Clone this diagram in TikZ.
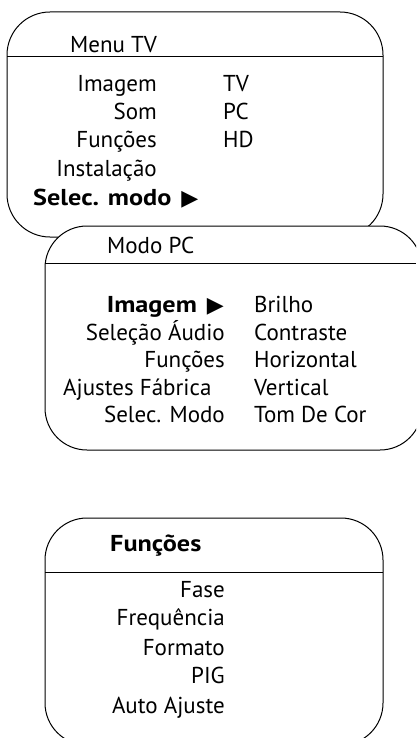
\documentclass[tikz,border=0pt]{standalone}
\usepackage{fontspec}
\setmainfont{PT Sans}
\newfontfamily\wbf{PT Sans}[FakeStretch=1.14]
\newfontfamily\symfont{DejaVu Sans}
\newcommand{\tri}{{\symfont\fontsize{22}{22}\selectfont ▶}}
\begin{document}
\begin{tikzpicture}[x=1pt,y=-1pt,
  box/.style={draw=black,line width=1pt,fill=white},
  sep/.style={draw=black,line width=1pt},
  txt/.style={inner sep=0pt,font=\fontsize{23}{24}\selectfont},
  lft/.style={txt,anchor=base west},
  rgt/.style={txt,anchor=base east},
  boldt/.style={font=\fontsize{23}{24}\selectfont\wbf\bfseries}]
\useasboundingbox (0,0) rectangle (416,738);
\begin{scope}
\clip (0,0) rectangle (416,738);
% top box
\draw[box,rounded corners=43pt] (7,12) rectangle (383,237);
\draw[sep] (7,57) -- (383,57);
\node[lft] (t0) at (70,53) {Menu TV};
\node[rgt] (t1) at (157,92) {Imagem};
\node[rgt] (t2) at (157,120) {Som};
\node[rgt] (t3) at (157,148) {Funções};
\node[rgt] (t4) at (157,177) {Instalação};
\node[lft,boldt] (t5) at (33,205) {Selec. modo\hspace{10pt}\tri};
\node[lft] (u1) at (223,92) {TV};
\node[lft] (u2) at (223,120) {PC};
\node[lft] (u3) at (223,148) {HD};
% middle box
\draw[box,rounded corners=42pt] (45,226) rectangle (422,450);
\draw[sep] (45,263) -- (416,263);
\node[lft] (m0) at (107,253) {Modo PC};
\node[rgt,boldt] (m1) at (224,312) {Imagem\hspace{10pt}\tri};
\node[rgt] (m2) at (225,340) {Seleção Áudio};
\node[rgt] (m3) at (225,367) {Funções};
\node[lft] (m4) at (63,395) {Ajustes Fábrica};
\node[rgt] (m5) at (225,422) {Selec. Modo};
\node[lft] (n1) at (254,312) {Brilho};
\node[lft] (n2) at (254,340) {Contraste};
\node[lft] (n3) at (254,367) {Horizontal};
\node[lft] (n4) at (254,395) {Vertical};
\node[lft] (n5) at (254,422) {Tom De Cor};
% bottom box
\draw[box,rounded corners=42pt] (45,518) rectangle (383,745);
\draw[sep] (45,572) -- (383,572);
\node[lft,boldt] (b0) at (110,551) {Funções};
\node[rgt] (b1) at (225,597) {Fase};
\node[rgt] (b2) at (225,625) {Frequência};
\node[rgt] (b3) at (225,655) {Formato};
\node[rgt] (b4) at (225,683) {PIG};
\node[rgt] (b5) at (225,713) {Auto Ajuste};
\end{scope}
\end{tikzpicture}
\end{document}
